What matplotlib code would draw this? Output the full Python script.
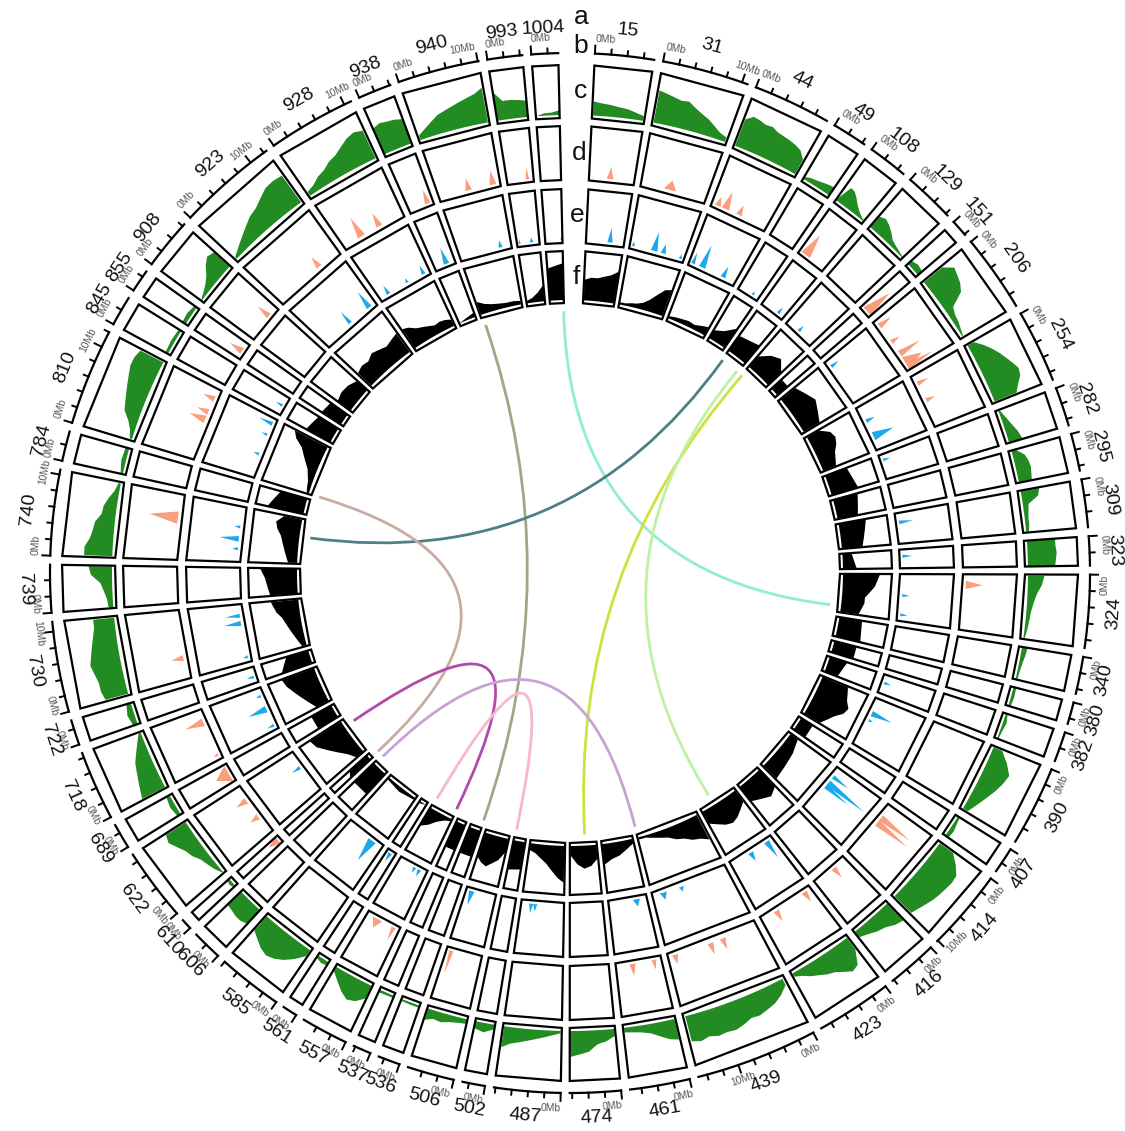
import numpy as np
import matplotlib.pyplot as plt
from matplotlib.patches import Polygon, PathPatch
from matplotlib.path import Path

plt.rcParams['font.family'] = ['Liberation Sans', 'DejaVu Sans']

# scaffolds, clockwise from the top, and their lengths in Mb
sectors = ['15', '31', '44', '49', '108', '129', '151', '206', '254', '282',
           '295', '309', '323', '324', '340', '380', '382', '390', '407', '414',
           '416', '423', '439', '461', '474', '487', '502', '506', '536', '537',
           '557', '561', '585', '606', '610', '622', '689', '718', '722', '730',
           '739', '740', '784', '810', '845', '855', '908', '923', '928', '938',
           '940', '993', '1004']
lengths = [7.3, 10.7, 9.6, 4.3, 4.9, 6.3, 2.1, 9.6, 9.0, 4.8,
           4.6, 5.9, 3.6, 9.0, 4.6, 2.7, 3.7, 9.9, 3.2, 10.1,
           6.2, 9.4, 15.1, 7.4, 6.3, 8.2, 2.8, 5.8, 2.7, 2.2,
           5.8, 1.8, 8.0, 3.7, 1.3, 9.0, 3.1, 8.6, 3.1, 11.2,
           5.9, 10.6, 3.7, 12.0, 3.7, 2.8, 6.3, 12.4, 10.9, 4.1,
           10.1, 4.3, 3.3]

# track c: windowed density (fraction of track height), evenly spaced along each scaffold
green = {
    '15': [0.3, 0.27, 0.25, 0.22, 0.2, 0.15, 0.1],
    '31': [0.7, 0.66, 0.62, 0.58, 0.6, 0.5, 0.42, 0.35, 0.25, 0.15, 0.1],
    '44': [0.6, 0.72, 0.7, 0.66, 0.68, 0.62, 0.6, 0.58, 0.55, 0.5, 0.35],
    '49': [0.05, 0.1, 0.12, 0.15, 0.18, 0.2],
    '108': [0.05, 0.4, 0.38, 0.3, 0.2, 0.12, 0.06, 0.02],
    '129': [0.3, 0.35, 0.3, 0.22, 0.12, 0.08, 0.05, 0.02],
    '151': [0.1, 0.15, 0.12],
    '206': [0.5, 0.7, 0.65, 0.6, 0.5, 0.18, 0.12, 0.1, 0.06, 0.02],
    '254': [0.15, 0.3, 0.42, 0.52, 0.6, 0.68, 0.75, 0.72, 0.6, 0.5],
    '282': [0.03, 0.1, 0.17, 0.25, 0.3],
    '295': [0.1, 0.25, 0.3, 0.32, 0.3, 0.28],
    '309': [0.4, 0.35, 0.12, 0.1, 0.08, 0.08, 0.06],
    '323': [0.6, 0.6, 0.62, 0.6, 0.58],
    '324': [0.35, 0.3, 0.2, 0.14, 0.1, 0.08, 0.06, 0.03],
    '340': [0.12, 0.1, 0.07, 0.05, 0.04],
    '380': [0.06, 0.07, 0.05],
    '382': [0.04, 0.08, 0.05, 0.03],
    '390': [0.2, 0.4, 0.55, 0.5, 0.42, 0.32, 0.22, 0.12],
    '407': [0.05, 0.07, 0.1, 0.08],
    '414': [0.35, 0.55, 0.7, 0.72, 0.7, 0.68, 0.65, 0.6, 0.55, 0.5],
    '416': [0.5, 0.45, 0.35, 0.3, 0.22, 0.15],
    '423': [0.3, 0.6, 0.65, 0.55, 0.45, 0.4, 0.32, 0.25, 0.15, 0.08],
    '439': [0.15, 0.3, 0.4, 0.45, 0.5, 0.48, 0.55, 0.6, 0.58, 0.6, 0.55, 0.6, 0.55],
    '461': [0.45, 0.4, 0.3, 0.2, 0.15, 0.12, 0.1],
    '474': [0.15, 0.25, 0.3, 0.45, 0.5, 0.55],
    '487': [0.05, 0.1, 0.15, 0.2, 0.25, 0.3, 0.35, 0.45],
    '502': [0.1, 0.2, 0.15],
    '506': [0.1, 0.12, 0.15, 0.2, 0.18, 0.25],
    '536': [0.05, 0.05, 0.04],
    '537': [0.05, 0.06],
    '557': [0.3, 0.45, 0.5, 0.4, 0.25, 0.1],
    '561': [0.08, 0.1, 0.05],
    '585': [0.15, 0.35, 0.5, 0.6, 0.65, 0.6, 0.5, 0.4],
    '606': [0.4, 0.45, 0.45, 0.42, 0.4],
    '610': [0.05, 0.08, 0.05],
    '622': [0.02, 0.1, 0.15, 0.2, 0.3, 0.35, 0.45, 0.55, 0.5],
    '689': [0.08, 0.12, 0.08],
    '718': [0.55, 0.5, 0.45, 0.4, 0.35, 0.25, 0.15, 0.05],
    '722': [0.1, 0.15, 0.1],
    '730': [0.5, 0.55, 0.55, 0.6, 0.65, 0.6, 0.55, 0.5, 0.45, 0.45],
    '739': [0.1, 0.12, 0.18, 0.25, 0.45, 0.5],
    '740': [0.6, 0.6, 0.5, 0.45, 0.42, 0.3, 0.28, 0.2, 0.1, 0.05],
    '784': [0.05, 0.1, 0.08],
    '810': [0.05, 0.1, 0.2, 0.35, 0.4, 0.45, 0.5, 0.55, 0.6, 0.6, 0.55],
    '845': [0.06, 0.08, 0.06],
    '855': [0.08, 0.1, 0.06],
    '908': [0.02, 0.08, 0.15, 0.25, 0.4, 0.5, 0.45],
    '923': [0.05, 0.15, 0.25, 0.35, 0.45, 0.5, 0.6, 0.7, 0.72, 0.7],
    '928': [0.1, 0.15, 0.25, 0.3, 0.4, 0.45, 0.55, 0.65, 0.7, 0.65],
    '938': [0.6, 0.65, 0.62, 0.6, 0.55],
    '940': [0.1, 0.2, 0.3, 0.4, 0.45, 0.5, 0.55, 0.6, 0.65, 0.75],
    '993': [0.6, 0.4, 0.4, 0.38, 0.35],
    '1004': [0.0, 0.05, 0.06, 0.1],
}

# track f
black = {
    '15': [0.45, 0.5, 0.5, 0.55, 0.6, 0.7],
    '31': [0.05, 0.05, 0.08, 0.1, 0.15, 0.25, 0.4, 0.55, 0.6],
    '44': [0.05, 0.08, 0.1, 0.12, 0.1, 0.15, 0.2],
    '49': [0.2, 0.3, 0.5],
    '108': [0.4, 0.5],
    '129': [0.3, 0.5, 0.6, 0.4],
    '151': [0.3, 0.3],
    '206': [0.4, 0.5, 0.6, 0.5, 0.4],
    '254': [0.3, 0.5, 0.55, 0.5, 0.4, 0.35, 0.3],
    '282': [0.5, 0.6],
    '295': [0.55, 0.5, 0.45],
    '309': [0.6, 0.55, 0.5, 0.45],
    '323': [0.2, 0.3],
    '324': [0.8, 0.75, 0.7, 0.6, 0.5, 0.5, 0.45, 0.4],
    '340': [0.5, 0.55],
    '380': [0.5, 0.5],
    '382': [0.4, 0.3],
    '390': [0.6, 0.65, 0.7, 0.8, 0.75, 0.6, 0.5, 0.4],
    '407': [0.3, 0.3],
    '414': [0.2, 0.3, 0.35, 0.4],
    '416': [0.5, 0.6, 0.5, 0.4],
    '423': [0.3, 0.4, 0.5, 0.55, 0.5, 0.4, 0.3],
    '439': [0.6, 0.5, 0.45, 0.35, 0.3, 0.2, 0.15, 0.1, 0.05, 0.05],
    '461': [0.1, 0.2, 0.3, 0.35, 0.45],
    '474': [0.3, 0.45, 0.5, 0.4, 0.2],
    '487': [0.8, 0.7, 0.55, 0.4, 0.3, 0.2, 0.15],
    '502': [0.6, 0.65],
    '506': [0.3, 0.5, 0.6, 0.7, 0.65, 0.55],
    '536': [0.6, 0.6],
    '537': [0.6, 0.6],
    '557': [0.05, 0.1, 0.2, 0.35, 0.45],
    '561': [0.0, 0.05],
    '585': [0.05, 0.1, 0.05],
    '606': [0.6, 0.6],
    '610': [0.6, 0.5],
    '622': [0.2, 0.3, 0.45, 0.6, 0.75, 0.8],
    '689': [0.5, 0.5],
    '718': [0.3, 0.4, 0.5, 0.6, 0.7, 0.75],
    '722': [0.7, 0.6, 0.5],
    '730': [0.1, 0.15, 0.2, 0.25, 0.3, 0.35, 0.4, 0.5, 0.55, 0.6],
    '739': [0.6, 0.65, 0.7, 0.8],
    '740': [0.2, 0.25, 0.3, 0.35, 0.4, 0.5, 0.55, 0.4],
    '784': [0.8, 0.7, 0.6],
    '810': [0.05, 0.08, 0.1, 0.15, 0.2, 0.3, 0.4, 0.5, 0.7, 0.8],
    '845': [0.6, 0.55, 0.5],
    '855': [0.5, 0.45],
    '908': [0.35, 0.4, 0.38, 0.3],
    '923': [0.4, 0.45, 0.42, 0.5, 0.45, 0.4, 0.45, 0.5],
    '928': [0.5, 0.45, 0.35, 0.3, 0.25, 0.2, 0.22, 0.2, 0.15],
    '938': [0.0, 0.05, 0.1],
    '940': [0.3, 0.2, 0.15, 0.12, 0.1, 0.1, 0.08],
    '993': [0.05, 0.1, 0.2, 0.35],
    '1004': [0.7, 0.75, 0.8],
}

# track d peaks: scaffold, centre (Mb), height, width (Mb)
d_sector = ['15', '31', '44', '44', '44', '108', '151', '206', '206', '206', '206', '206',
            '254', '254', '324', '414', '414', '416', '423', '423', '439', '439', '439',
            '461', '461', '506', '557', '557', '610', '622', '622', '689', '718', '718',
            '730', '740', '810', '810', '810', '855', '908', '923', '928', '928', '938',
            '940', '940', '993']
d_pos = [3.4, 4.8, 1.1, 2.4, 4.8, 1.2, 1.4, 1.1, 4.3, 6.6, 8.3, 9.0,
         1.5, 4.5, 1.7, 2.5, 3.5, 2.4, 1.2, 6.6, 5.8, 7.9, 13.9,
         1.2, 4.7, 5.0, 1.0, 3.9, 0.8, 3.2, 6.4, 1.5, 0.8, 6.5,
         3.4, 6.8, 6.7, 8.0, 10.3, 1.3, 4.5, 8.4, 3.3, 6.6, 3.2,
         4.9, 8.9, 3.3]
d_height = [0.25, 0.2, 0.2, 0.38, 0.22, 0.5, 0.6, 0.3, 0.2, 0.5, 0.4, 0.6,
            0.25, 0.2, 0.35, 0.75, 0.8, 0.25, 0.25, 0.25, 0.25, 0.25, 0.2,
            0.2, 0.25, 0.5, 0.3, 0.2, 0.25, 0.2, 0.25, 0.3, 0.1, 0.4,
            0.25, 0.6, 0.35, 0.25, 0.25, 0.3, 0.3, 0.25, 0.45, 0.3, 0.3,
            0.25, 0.3, 0.25]
d_width = [1.1, 2.0, 1.0, 1.3, 1.0, 1.7, 2.2, 1.0, 0.8, 1.1, 2.1, 1.1,
           0.8, 0.8, 1.3, 1.1, 1.1, 1.0, 1.0, 1.0, 1.0, 1.0, 1.0,
           0.8, 1.0, 0.7, 0.7, 1.7, 1.6, 1.0, 1.1, 2.8, 0.6, 1.3,
           1.0, 2.0, 1.3, 1.0, 1.0, 1.1, 1.0, 1.0, 1.3, 1.1, 1.0,
           1.1, 1.1, 0.6]

# track e peaks
e_sector = ['15', '31', '31', '31', '31', '44', '44', '44', '49', '108', '129', '206',
            '254', '254', '282', '309', '323', '324', '324', '382', '390', '390',
            '414', '414', '414', '423', '423', '439', '439', '461', '487', '487',
            '506', '557', '557', '561', '585', '622', '718', '718', '718', '722',
            '730', '730', '730', '740', '740', '740', '810', '810', '810', '845',
            '923', '923', '928', '928', '928', '938', '940', '993', '993', '1004']
e_pos = [4.6, 0.7, 4.8, 6.6, 10.0, 0.8, 2.7, 7.1, 3.0, 3.6, 2.8, 1.4,
         3.1, 6.3, 1.1, 1.8, 1.3, 4.1, 7.8, 1.6, 3.1, 4.5,
         2.0, 3.5, 4.3, 1.3, 5.0, 9.3, 12.9, 2.0, 5.5, 6.3,
         4.7, 1.5, 2.5, 1.0, 2.3, 5.7, 0.9, 4.3, 7.0, 1.2,
         1.0, 7.5, 9.0, 2.5, 4.4, 6.7, 4.6, 8.6, 10.9, 1.8,
         6.2, 10.9, 1.9, 6.1, 9.6, 2.4, 8.0, 0.5, 2.8, 3.2]
e_height = [0.3, 0.1, 0.4, 0.2, 0.1, 0.25, 0.5, 0.25, 0.08, 0.15, 0.15, 0.2,
            0.2, 0.45, 0.15, 0.3, 0.2, 0.15, 0.15, 0.15, 0.45, 0.1,
            0.4, 0.95, 0.6, 0.4, 0.2, 0.1, 0.15, 0.15, 0.15, 0.2,
            0.3, 0.15, 0.12, 0.2, 0.5, 0.2, 0.15, 0.4, 0.1, 0.15,
            0.1, 0.35, 0.3, 0.12, 0.4, 0.12, 0.12, 0.12, 0.3, 0.15,
            0.3, 0.4, 0.2, 0.1, 0.2, 0.35, 0.15, 0.1, 0.1, 0.1]
e_width = [1.0, 0.6, 1.3, 1.0, 0.6, 0.8, 1.3, 1.0, 0.6, 0.7, 0.7, 0.7,
           0.8, 1.7, 0.6, 0.7, 0.6, 0.6, 0.6, 0.6, 1.1, 0.6,
           0.8, 1.2, 0.9, 1.1, 1.1, 1.0, 1.4, 1.4, 0.8, 0.8,
           1.1, 0.8, 0.7, 0.8, 1.7, 0.7, 0.6, 1.3, 0.6, 0.6,
           0.6, 1.0, 0.8, 0.6, 1.1, 0.6, 0.6, 0.6, 0.8, 0.6,
           0.8, 1.1, 0.8, 0.6, 0.8, 1.1, 0.8, 0.4, 0.7, 0.6]

# links between scaffolds
link_from = [('940', 0.5), ('1004', 3.2), ('108', 0.2), ('129', 0.2), ('108', 4.6),
             ('810', 0.1), ('622', 7.3), ('606', 3.3), ('557', 5.5)]
link_to = [('536', 0.1), ('324', 7.5), ('740', 6.4), ('474', 2.7), ('423', 6.0),
           ('610', 0.2), ('557', 0.1), ('439', 15.0), ('502', 2.6)]
link_colors = ['#a0a783', '#93ecd6', '#4d8084', '#cde23e', '#bdf2a2',
               '#c8aca2', '#b24ba8', '#c9a2d4', '#f8b6cf']

# layout (pixel coordinates, y grows downwards)
CX, CY = 570, 573
START = 2.75
GAP = 1.0
BIG_GAP = 4.05
deg_per_mb = (360 - BIG_GAP - GAP * (len(sectors) - 1)) / sum(lengths)

start_ang = {}
sec_len = dict(zip(sectors, lengths))
a = START
for s, L in zip(sectors, lengths):
    start_ang[s] = a
    a += L * deg_per_mb + GAP

tracks = {'c': (455, 508), 'd': (393, 447), 'e': (330, 384), 'f': (270, 322)}
R_AXIS = 520
R_LINK = 262
R_NAME = 545


def ang(s, mb):
    return start_ang[s] + mb * deg_per_mb


def xy(theta, r):
    t = np.radians(theta)
    return CX + r * np.sin(t), CY - r * np.cos(t)


def tangent_rot(theta):
    t = theta % 360
    if t < 90 or t >= 270:
        return -t
    return 180 - t


def upper(theta):
    t = theta % 360
    return t < 90 or t >= 270


fig = plt.figure(figsize=(11.25, 11.31), dpi=100)
ax = fig.add_axes([0, 0, 1, 1])
ax.set_xlim(0, 1125)
ax.set_ylim(1131, 0)
ax.set_aspect('equal')
ax.axis('off')


def draw_area(s, vals, r0, r1, color):
    L = sec_len[s]
    xs = np.linspace(0.02 * L, 0.98 * L, len(vals))
    rb, rt = r0 + 3, r1 - 3
    pts = [xy(t, rb) for t in np.linspace(ang(s, xs[0]), ang(s, xs[-1]), 40)]
    for x, v in zip(xs[::-1], vals[::-1]):
        pts.append(xy(ang(s, x), rb + v * (rt - rb)))
    ax.add_patch(Polygon(pts, closed=True, fc=color, ec='none', zorder=2))


def draw_peak(s, pos, h, w, r0, r1, color):
    rb, rt = r0 + 3, r1 - 3
    lo = max(pos - w / 2, 0)
    hi = min(pos + w / 2, sec_len[s])
    pts = [xy(ang(s, lo), rb), xy(ang(s, pos), rb + h * (rt - rb)), xy(ang(s, hi), rb)]
    ax.add_patch(Polygon(pts, closed=True, fc=color, ec='none', zorder=2))


for s in sectors:
    L = sec_len[s]
    t0 = ang(s, 0)
    t1 = ang(s, L)
    # cell borders
    for r0, r1 in tracks.values():
        corners = [xy(t0, r0), xy(t0, r1), xy(t1, r1), xy(t1, r0)]
        ax.add_patch(Polygon(corners, closed=True, fill=False, ec='black',
                             lw=1.6, joinstyle='miter', zorder=3))
    # genomic axis
    arc = np.array([xy(t, R_AXIS) for t in np.linspace(t0, t1, 40)])
    ax.plot(arc[:, 0], arc[:, 1], color='black', lw=1.6, zorder=3)
    for mb in np.arange(0, L + 1e-6, 2):
        major = mb % 10 == 0
        th = ang(s, mb)
        p0 = xy(th, R_AXIS)
        p1 = xy(th, R_AXIS + (8 if major else 5))
        ax.plot([p0[0], p1[0]], [p0[1], p1[1]], color='black', lw=1.4, zorder=3)
        if major:
            lx, ly = xy(th, R_AXIS + 15)
            # keep end labels inside their own scaffold
            if mb == 0:
                ha = 'left' if upper(th) else 'right'
            elif L - mb < 0.5:
                ha = 'right' if upper(th) else 'left'
            else:
                ha = 'center'
            ax.text(lx, ly, f'{int(mb)}Mb', fontsize=7.4, color='#555555',
                    rotation=tangent_rot(th), rotation_mode='anchor',
                    ha=ha, va='center')
    # scaffold name
    tm = (t0 + t1) / 2
    nx, ny = xy(tm, R_NAME)
    ax.text(nx, ny, s, fontsize=14, color='#111111', rotation=tangent_rot(tm),
            rotation_mode='anchor', ha='center', va='center')

    r0, r1 = tracks['c']
    draw_area(s, green[s], r0, r1, '#228b22')
    r0, r1 = tracks['f']
    draw_area(s, black[s], r0, r1, 'black')

for s, p, h, w in zip(d_sector, d_pos, d_height, d_width):
    draw_peak(s, p, h, w, *tracks['d'], '#fa9e7c')
for s, p, h, w in zip(e_sector, e_pos, e_height, e_width):
    draw_peak(s, p, h, w, *tracks['e'], '#1aa9ea')

# links: quadratic curves through the centre
for (s1, p1), (s2, p2), col in zip(link_from, link_to, link_colors):
    A = xy(ang(s1, p1), R_LINK)
    B = xy(ang(s2, p2), R_LINK)
    path = Path([A, (CX, CY), B], [Path.MOVETO, Path.CURVE3, Path.CURVE3])
    ax.add_patch(PathPatch(path, fc='none', ec=col, lw=2.0, zorder=4))

# track letters in the opening gap
for lab, r in zip('abcdef', [556, 527, 482, 420, 358, 296]):
    lx, ly = xy(1.2, r)
    ax.text(lx, ly, lab, fontsize=19, color='#111111', ha='center', va='center')

fig.savefig('out.png', dpi=100)
